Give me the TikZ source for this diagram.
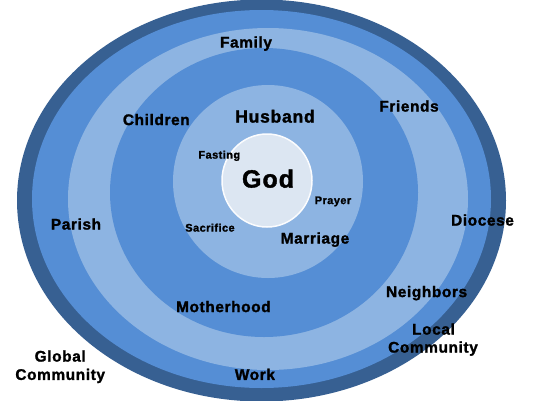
\documentclass[tikz,border=0pt]{standalone}
\usepackage{fontspec}
\setmainfont{Liberation Sans}[LetterSpace=4, BoldFeatures={FakeBold=1.5}]
\definecolor{ringdark}{HTML}{376092}
\definecolor{ringmid}{HTML}{558ED5}
\definecolor{ringlight}{HTML}{8DB4E2}
\definecolor{godfill}{HTML}{DCE6F2}
\tikzset{
  lbl/.style={inner sep=0pt, text height=0.716em, text depth=0pt, font=\bfseries\fontsize{15.4}{18}\selectfont, text=black},
  lblbig/.style={lbl, font=\bfseries\fontsize{17.6}{20}\selectfont},
  lblsmall/.style={lbl, font=\bfseries\fontsize{11}{13}\selectfont},
}
\begin{document}
\begin{tikzpicture}[x=1pt,y=-1pt]
\useasboundingbox (0,0) rectangle (533,400);
\clip (0,0) rectangle (533,400);
\fill[white] (0,0) rectangle (533,400);
% rings
\fill[ringdark] (261.5,200.5) ellipse [x radius=244.5, y radius=201];
\fill[ringmid] (261.5,199) ellipse [x radius=229.5, y radius=189];
\fill[ringlight] (268,199) ellipse [x radius=200, y radius=171];
\fill[ringmid] (264,192.5) ellipse [x radius=154, y radius=144.5];
\fill[ringlight] (268,181.5) ellipse [x radius=95, y radius=96.5];
\filldraw[fill=godfill, draw=white!90!godfill, line width=1.5pt] (267,180.5) ellipse [x radius=45, y radius=46.5];
% labels
\node[lbl, font=\bfseries\fontsize{25}{28}\selectfont] (god) at (268,184) {God};
\node[lbl] (family) at (246,44) {Family};
\node[lbl] (children) at (156.3,121.5) {Children};
\node[lblbig] (husband) at (275,119) {Husband};
\node[lbl] (friends) at (409,108) {Friends};
\node[lblsmall] (fasting) at (219.3,155) {Fasting};
\node[lblsmall] (prayer) at (333,200.5) {Prayer};
\node[lbl] (parish) at (76,226) {Parish};
\node[lblsmall] (sacrifice) at (210,228) {Sacrifice};
\node[lbl] (marriage) at (315,240) {Marriage};
\node[lbl] (diocese) at (482.5,222) {Diocese};
\node[lbl] (neighbors) at (426.6,293.5) {Neighbors};
\node[lbl] (motherhood) at (223.4,308.5) {Motherhood};
\node[lbl] (local1) at (433.5,331) {Local};
\node[lbl] (local2) at (433,349) {Community};
\node[lbl] (global1) at (60.2,358) {Global};
\node[lbl] (global2) at (60.2,376.3) {Community};
\node[lbl] (work) at (254.9,376.3) {Work};
\end{tikzpicture}
\end{document}
